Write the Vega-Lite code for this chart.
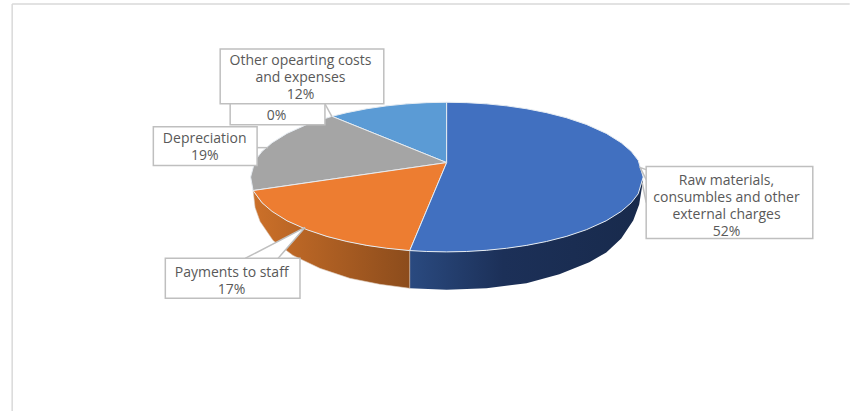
{
  "$schema": "https://vega.github.io/schema/vega-lite/v6.json",
  "width": 851,
  "height": 412,
  "padding": 0,
  "autosize": {"type": "fit", "contains": "padding"},
  "background": "white",
  "view": {"stroke": null},
  "config": {"text": {"font": "Open Sans"}},
  "datasets": {
    "frame": [
      {"x": 11.5, "y": 4, "x2": 851, "y2": 4},
      {"x": 11.5, "y": 4, "x2": 11.5, "y2": 412}
    ],
    "walls": [
      {"part": "raw", "i": 0, "x": 410, "y": 251},
      {"part": "raw", "i": 1, "x": 447, "y": 252.5},
      {"part": "raw", "i": 2, "x": 487, "y": 250.9},
      {"part": "raw", "i": 3, "x": 527, "y": 246},
      {"part": "raw", "i": 4, "x": 567, "y": 237},
      {"part": "raw", "i": 5, "x": 607, "y": 221.3},
      {"part": "raw", "i": 6, "x": 632, "y": 203.3},
      {"part": "raw", "i": 7, "x": 644, "y": 180},
      {"part": "raw", "i": 8, "x": 640, "y": 205},
      {"part": "raw", "i": 9, "x": 634, "y": 221},
      {"part": "raw", "i": 10, "x": 622, "y": 239},
      {"part": "raw", "i": 11, "x": 607, "y": 253},
      {"part": "raw", "i": 12, "x": 590, "y": 263},
      {"part": "raw", "i": 13, "x": 560, "y": 275},
      {"part": "raw", "i": 14, "x": 527, "y": 284},
      {"part": "raw", "i": 15, "x": 487, "y": 289},
      {"part": "raw", "i": 16, "x": 447, "y": 290.5},
      {"part": "raw", "i": 17, "x": 410, "y": 289},
      {"part": "raw", "i": 18, "x": 410, "y": 251},
      {"part": "staff", "i": 0, "x": 253, "y": 191},
      {"part": "staff", "i": 1, "x": 262, "y": 203.3},
      {"part": "staff", "i": 2, "x": 287, "y": 221.3},
      {"part": "staff", "i": 3, "x": 327, "y": 237},
      {"part": "staff", "i": 4, "x": 367, "y": 246},
      {"part": "staff", "i": 5, "x": 410, "y": 251},
      {"part": "staff", "i": 6, "x": 410, "y": 289},
      {"part": "staff", "i": 7, "x": 380, "y": 285},
      {"part": "staff", "i": 8, "x": 350, "y": 279},
      {"part": "staff", "i": 9, "x": 320, "y": 269},
      {"part": "staff", "i": 10, "x": 293, "y": 256},
      {"part": "staff", "i": 11, "x": 273, "y": 241},
      {"part": "staff", "i": 12, "x": 260, "y": 222},
      {"part": "staff", "i": 13, "x": 255, "y": 208},
      {"part": "staff", "i": 14, "x": 253, "y": 191}
    ],
    "slices": [
      {"part": "other", "i": 0, "x": 447, "y": 163},
      {"part": "other", "i": 1, "x": 332, "y": 116.6},
      {"part": "other", "i": 2, "x": 347, "y": 112.9},
      {"part": "other", "i": 3, "x": 367, "y": 109},
      {"part": "other", "i": 4, "x": 387, "y": 106.1},
      {"part": "other", "i": 5, "x": 407, "y": 104.1},
      {"part": "other", "i": 6, "x": 427, "y": 102.9},
      {"part": "other", "i": 7, "x": 447, "y": 102.5},
      {"part": "other", "i": 8, "x": 447, "y": 163},
      {"part": "depreciation", "i": 0, "x": 447, "y": 163},
      {"part": "depreciation", "i": 1, "x": 253, "y": 191},
      {"part": "depreciation", "i": 2, "x": 250.5, "y": 177.5},
      {"part": "depreciation", "i": 3, "x": 255, "y": 160.7},
      {"part": "depreciation", "i": 4, "x": 262, "y": 151.7},
      {"part": "depreciation", "i": 5, "x": 272, "y": 143.1},
      {"part": "depreciation", "i": 6, "x": 287, "y": 133.7},
      {"part": "depreciation", "i": 7, "x": 307, "y": 124.7},
      {"part": "depreciation", "i": 8, "x": 332, "y": 116.6},
      {"part": "depreciation", "i": 9, "x": 447, "y": 163},
      {"part": "staff", "i": 0, "x": 447, "y": 163},
      {"part": "staff", "i": 1, "x": 410, "y": 251.2},
      {"part": "staff", "i": 2, "x": 387, "y": 248.9},
      {"part": "staff", "i": 3, "x": 367, "y": 246},
      {"part": "staff", "i": 4, "x": 347, "y": 242.1},
      {"part": "staff", "i": 5, "x": 327, "y": 237},
      {"part": "staff", "i": 6, "x": 307, "y": 230.3},
      {"part": "staff", "i": 7, "x": 287, "y": 221.3},
      {"part": "staff", "i": 8, "x": 272, "y": 211.9},
      {"part": "staff", "i": 9, "x": 262, "y": 203.3},
      {"part": "staff", "i": 10, "x": 253, "y": 191},
      {"part": "staff", "i": 11, "x": 447, "y": 163},
      {"part": "raw", "i": 0, "x": 447, "y": 163},
      {"part": "raw", "i": 1, "x": 447, "y": 102.5},
      {"part": "raw", "i": 2, "x": 467, "y": 102.9},
      {"part": "raw", "i": 3, "x": 487, "y": 104.1},
      {"part": "raw", "i": 4, "x": 507, "y": 106.1},
      {"part": "raw", "i": 5, "x": 527, "y": 109},
      {"part": "raw", "i": 6, "x": 547, "y": 112.9},
      {"part": "raw", "i": 7, "x": 567, "y": 118},
      {"part": "raw", "i": 8, "x": 587, "y": 124.7},
      {"part": "raw", "i": 9, "x": 607, "y": 133.7},
      {"part": "raw", "i": 10, "x": 622, "y": 143.1},
      {"part": "raw", "i": 11, "x": 632, "y": 151.7},
      {"part": "raw", "i": 12, "x": 639, "y": 160.7},
      {"part": "raw", "i": 13, "x": 644, "y": 177.5},
      {"part": "raw", "i": 14, "x": 639, "y": 194.3},
      {"part": "raw", "i": 15, "x": 632, "y": 203.3},
      {"part": "raw", "i": 16, "x": 622, "y": 211.9},
      {"part": "raw", "i": 17, "x": 607, "y": 221.3},
      {"part": "raw", "i": 18, "x": 587, "y": 230.3},
      {"part": "raw", "i": 19, "x": 567, "y": 237},
      {"part": "raw", "i": 20, "x": 547, "y": 242.1},
      {"part": "raw", "i": 21, "x": 527, "y": 246},
      {"part": "raw", "i": 22, "x": 507, "y": 248.9},
      {"part": "raw", "i": 23, "x": 487, "y": 250.9},
      {"part": "raw", "i": 24, "x": 467, "y": 252.1},
      {"part": "raw", "i": 25, "x": 447, "y": 252.5},
      {"part": "raw", "i": 26, "x": 427, "y": 252.1},
      {"part": "raw", "i": 27, "x": 410, "y": 251.2},
      {"part": "raw", "i": 28, "x": 447, "y": 163}
    ],
    "callouts": [
      {"part": "staff", "i": 0, "x": 245, "y": 259},
      {"part": "staff", "i": 1, "x": 305, "y": 228},
      {"part": "staff", "i": 2, "x": 278, "y": 259},
      {"part": "raw", "i": 0, "x": 647, "y": 180},
      {"part": "raw", "i": 1, "x": 641, "y": 168},
      {"part": "raw", "i": 2, "x": 647, "y": 170},
      {"part": "raw2", "i": 0, "x": 643, "y": 183},
      {"part": "raw2", "i": 1, "x": 647, "y": 203},
      {"part": "other", "i": 0, "x": 325, "y": 104},
      {"part": "other", "i": 1, "x": 332, "y": 117},
      {"part": "depreciation", "i": 0, "x": 257, "y": 148},
      {"part": "depreciation", "i": 1, "x": 268, "y": 148}
    ],
    "boxes": [
      {"part": "zero", "x": 230, "x2": 325, "y": 100, "y2": 125},
      {"part": "other", "x": 220, "x2": 384, "y": 49, "y2": 104},
      {"part": "depreciation", "x": 153, "x2": 257, "y": 127, "y2": 166},
      {"part": "staff", "x": 165, "x2": 300, "y": 259, "y2": 299},
      {"part": "raw", "x": 647, "x2": 814, "y": 167, "y2": 239}
    ],
    "labels": [
      {"x": 300.5, "y": 61.5, "share": 12, "label": "Other opearting costs\nand expenses\n12%"},
      {"x": 276.5, "y": 116, "share": 0, "label": "0%"},
      {"x": 204.5, "y": 139, "share": 19, "label": "Depreciation\n19%"},
      {"x": 231.5, "y": 273.5, "share": 17, "label": "Payments to staff\n17%"},
      {"x": 727.5, "y": 181.5, "share": 52, "label": "Raw materials,\nconsumbles and other\nexternal charges\n52%"}
    ]
  },
  "encoding": {
    "x": {"field": "x", "type": "quantitative", "axis": null, "scale": {"domain": [-0.7, 850.3], "nice": false, "zero": false}},
    "y": {"field": "y", "type": "quantitative", "axis": null, "scale": {"domain": [412, 0], "nice": false, "zero": false}}
  },
  "layer": [
    {
      "data": {"name": "frame"},
      "mark": {"type": "rule", "color": "#D9D9D9", "strokeWidth": 1.5},
      "encoding": {"x2": {"field": "x2"}, "y2": {"field": "y2"}}
    },
    {
      "data": {"name": "walls"},
      "transform": [{"filter": "datum.part === 'raw'"}],
      "mark": {
        "type": "line",
        "strokeWidth": 0,
        "fill": {"gradient": "linear", "x1": 0, "y1": 0, "x2": 1, "y2": 0, "stops": [
          {"offset": 0, "color": "#2A4A80"},
          {"offset": 0.4, "color": "#1C3058"},
          {"offset": 1, "color": "#182A4C"}
        ]}
      },
      "encoding": {"order": {"field": "i"}}
    },
    {
      "data": {"name": "walls"},
      "transform": [{"filter": "datum.part === 'staff'"}],
      "mark": {
        "type": "line",
        "strokeWidth": 0.6,
        "stroke": "#D8C4B4",
        "fill": {"gradient": "linear", "x1": 0, "y1": 0, "x2": 1, "y2": 0, "stops": [
          {"offset": 0, "color": "#CC7029"},
          {"offset": 1, "color": "#8C4C1C"}
        ]}
      },
      "encoding": {"order": {"field": "i"}}
    },
    {
      "data": {"name": "slices"},
      "mark": {"type": "line", "stroke": "#E6ECF2", "strokeWidth": 1},
      "encoding": {
        "order": {"field": "i"},
        "fill": {
          "field": "part",
          "type": "nominal",
          "legend": null,
          "scale": {
            "domain": ["raw", "staff", "depreciation", "other"],
            "range": ["#4170C0", "#ED7D31", "#A5A5A5", "#5B9BD5"]
          }
        }
      }
    },
    {
      "data": {"name": "callouts"},
      "mark": {"type": "line", "stroke": "#BFBFBF", "strokeWidth": 1.5, "fill": "white"},
      "encoding": {"order": {"field": "i"}, "detail": {"field": "part"}}
    },
    {
      "data": {"name": "boxes"},
      "mark": {"type": "rect", "fill": "white", "stroke": "#BFBFBF", "strokeWidth": 1.5},
      "encoding": {"x2": {"field": "x2"}, "y2": {"field": "y2"}}
    },
    {
      "data": {"name": "labels"},
      "mark": {"type": "text", "align": "center", "baseline": "middle", "fontSize": 14, "lineHeight": 17, "lineBreak": "\n", "color": "#595959"},
      "encoding": {"text": {"field": "label"}}
    }
  ]
}
